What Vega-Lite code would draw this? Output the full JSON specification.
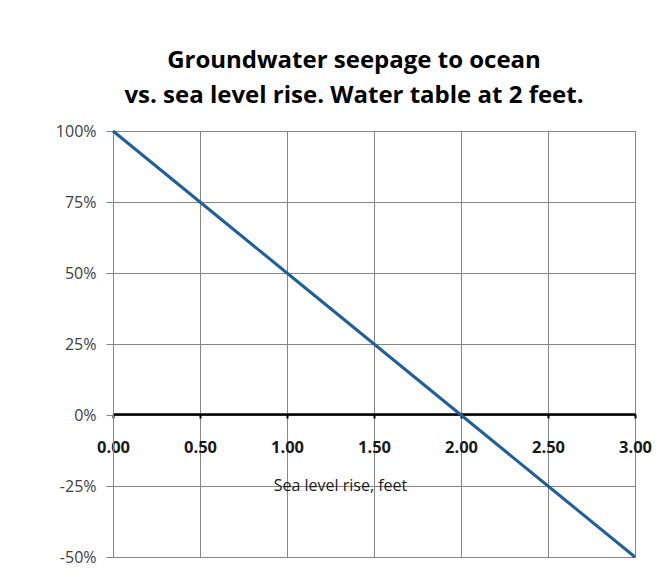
{
  "$schema": "https://vega.github.io/schema/vega-lite/v6.json",
  "width": 522,
  "height": 426,
  "autosize": "none",
  "padding": {"left": 113, "top": 131, "right": 31, "bottom": 24},
  "background": "white",
  "config": {"view": {"stroke": "#868686", "strokeWidth": 1}},
  "title": {
    "text": ["Groundwater seepage to ocean", "vs. sea level rise. Water table at 2 feet."],
    "font": "Open Sans",
    "fontSize": 24,
    "fontWeight": "bold",
    "color": "#000000",
    "anchor": "middle",
    "frame": "group",
    "dx": -20,
    "lineHeight": 35,
    "offset": 15
  },
  "data": {
    "values": [
      {"rise": 0.0, "pct": 1.0},
      {"rise": 0.5, "pct": 0.75},
      {"rise": 1.0, "pct": 0.5},
      {"rise": 1.5, "pct": 0.25},
      {"rise": 2.0, "pct": 0.0},
      {"rise": 2.5, "pct": -0.25},
      {"rise": 3.0, "pct": -0.5}
    ]
  },
  "layer": [
    {
      "mark": {"type": "line", "opacity": 0},
      "encoding": {
        "x": {
          "field": "rise", "type": "quantitative",
          "scale": {"domain": [0, 3], "nice": false, "zero": false},
          "axis": {
            "orient": "top", "grid": true, "gridColor": "#868686", "gridWidth": 1,
            "values": [0, 0.5, 1, 1.5, 2, 2.5, 3],
            "labels": false, "ticks": false, "domain": false, "title": null
          }
        },
        "y": {
          "field": "pct", "type": "quantitative",
          "scale": {"domain": [-0.5, 1], "nice": false, "zero": false},
          "axis": {
            "grid": true, "gridColor": "#868686", "gridWidth": 1,
            "values": [-0.5, -0.25, 0, 0.25, 0.5, 0.75, 1],
            "labelExpr": "replace(format(datum.value, '.0%'), '\u2212', '-')",
            "labelFont": "Open Sans", "labelFontSize": 16, "labelColor": "#404040",
            "labelPadding": 10, "labelFlush": false,
            "ticks": true, "tickColor": "#868686", "tickSize": 7,
            "domain": true, "domainColor": "#868686",
            "title": null
          }
        }
      }
    },
    {
      "mark": {"type": "line", "color": "#215F9A", "strokeWidth": 3},
      "encoding": {
        "x": {
          "field": "rise", "type": "quantitative",
          "axis": {
            "orient": "bottom", "offset": -143, "grid": false,
            "values": [0, 0.5, 1, 1.5, 2, 2.5, 3],
            "format": ".2f",
            "labelFont": "Open Sans", "labelFontSize": 16.5, "labelFontWeight": "bold", "labelColor": "#1a1a1a",
            "labelPadding": 21, "labelFlush": false, "labelOverlap": false, "labelBound": false,
            "domainColor": "#000000", "domainWidth": 2.5,
            "tickColor": "#000000", "tickWidth": 2, "tickSize": 4,
            "title": "Sea level rise, feet",
            "titleFont": "Open Sans", "titleFontSize": 16, "titleFontWeight": "normal", "titleColor": "#1a1a1a",
            "titlePadding": 22, "titleX": 227, "titleAlign": "center"
          }
        },
        "y": {"field": "pct", "type": "quantitative"}
      }
    }
  ],
  "resolve": {"axis": {"x": "independent"}}
}
